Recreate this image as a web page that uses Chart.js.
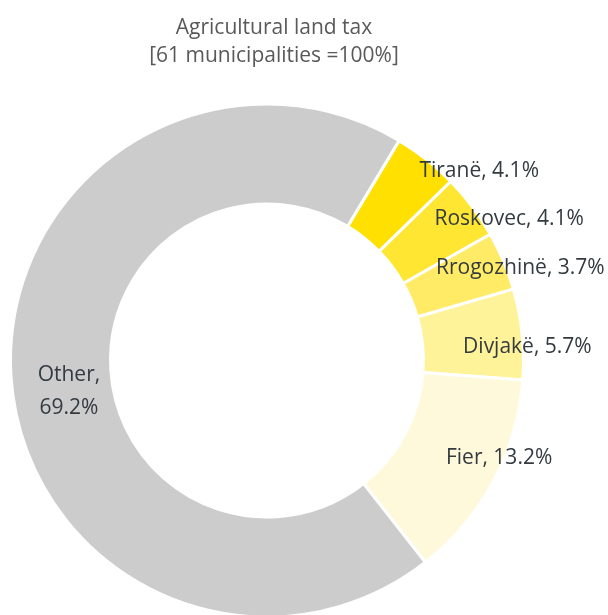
<!DOCTYPE html>
<html>
<head>
<meta charset="utf-8">
<script src="https://cdn.jsdelivr.net/npm/chart.js@4.4.0/dist/chart.umd.min.js"></script>
<style>
    html, body { margin: 0; padding: 0; background: #fff; overflow: hidden; }
    #wrap { width: 608px; height: 630px; }
</style>
</head>
<body>
<div id="wrap"><canvas id="my-chart" width="608" height="630"></canvas></div>
<script>
// ======== Data ========
const municipalities = ['Tiranë', 'Roskovec', 'Rrogozhinë', 'Divjakë', 'Fier', 'Other']
const shares = [4.1, 4.1, 3.7, 5.7, 13.2, 69.2]
const titleLines = ['Agricultural land tax', '[61 municipalities =100%]']

// ======== Styles ========
const sliceColors = ['#FFE000', '#FFE633', '#FFEB66', '#FFF399', '#FFF9DB', '#CCCCCC']
// label shift from the middle of each slice (px)
const labelShift = [[84, -28], [77, -18], [63, -12], [55, 8], [50, 0], [8, 18]]
const fontFamily = "'Open Sans', sans-serif"

// draws the title and the slice labels
const textPlugin = {
    id: 'textPlugin',
    afterDraw(chart) {
        const ctx = chart.ctx
        ctx.save()
        ctx.textAlign = 'center'
        ctx.textBaseline = 'middle'
        ctx.fillStyle = '#595959'
        ctx.font = `21px ${fontFamily}`
        ctx.fillText(titleLines[0], 274, 28)
        ctx.fillText(titleLines[1], 274, 56)

        ctx.fillStyle = '#333a40'
        ctx.font = `21px ${fontFamily}`
        const arcs = chart.getDatasetMeta(0).data
        arcs.forEach((arc, i) => {
            const p = arc.tooltipPosition()
            const x = p.x + labelShift[i][0]
            const y = p.y + labelShift[i][1]
            const pct = shares[i].toFixed(1) + '%'
            if (municipalities[i] === 'Other') {
                ctx.fillText(municipalities[i] + ',', x, y - 16)
                ctx.fillText(pct, x, y + 17)
            } else {
                ctx.fillText(municipalities[i] + ', ' + pct, x, y)
            }
        })
        ctx.restore()
    }
}

new Chart(document.getElementById('my-chart').getContext('2d'), {
    type: 'doughnut',
    data: {
        labels: municipalities,
        datasets: [{
            data: shares,
            backgroundColor: sliceColors,
            borderColor: '#ffffff',
            borderWidth: 3,
            hoverOffset: 0
        }]
    },
    options: {
        responsive: false,
        animation: false,
        rotation: 31,
        cutout: '61%',
        layout: { padding: { left: 9, right: 83, top: 102, bottom: 11 } },
        plugins: {
            legend: { display: false },
            tooltip: { enabled: false },
            title: { display: false }
        }
    },
    plugins: [textPlugin]
})
</script>
</body>
</html>
